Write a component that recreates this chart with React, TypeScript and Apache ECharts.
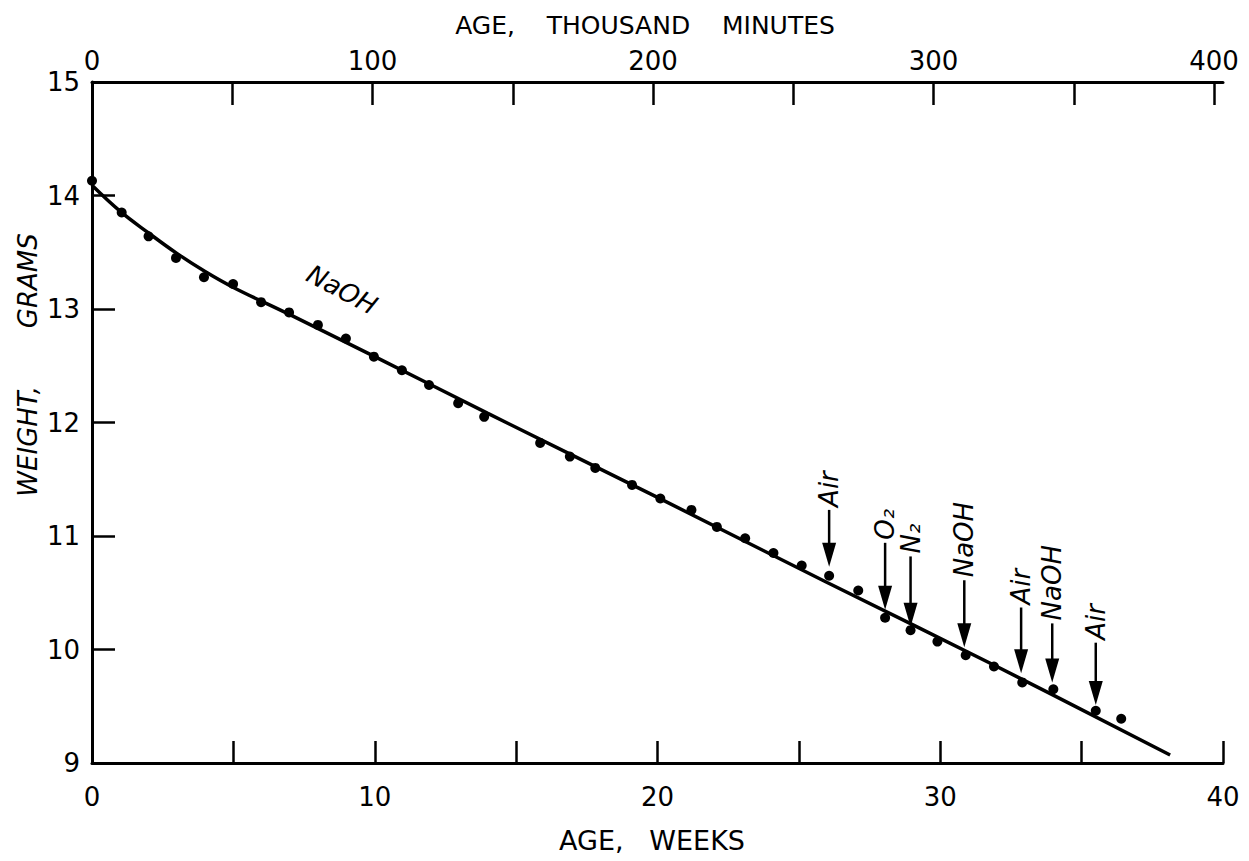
import React, { useEffect, useRef } from "react";
import * as echarts from "echarts";

// Measured points (age in weeks, weight in grams)
const pointWeeks = [0, 1.05, 2.0, 2.97, 3.96, 4.99, 5.98, 6.97, 7.99, 8.98, 9.97, 10.96, 11.92, 12.95, 13.87, 15.85, 16.9, 17.8, 19.1, 20.1, 21.2, 22.1, 23.1, 24.1, 25.1, 26.07, 27.1, 28.05, 28.95, 29.9, 30.9, 31.9, 32.9, 34.0, 35.5, 36.4];
const pointGrams = [14.13, 13.85, 13.64, 13.45, 13.28, 13.22, 13.06, 12.97, 12.86, 12.74, 12.58, 12.46, 12.33, 12.17, 12.05, 11.82, 11.7, 11.6, 11.45, 11.33, 11.23, 11.08, 10.98, 10.85, 10.74, 10.65, 10.52, 10.28, 10.17, 10.07, 9.95, 9.85, 9.71, 9.65, 9.46, 9.39];

// Fitted curve
const curveWeeks = [0, 1, 2, 3, 4, 5, 7, 10, 14, 20, 26, 32, 38.13];
const curveGrams = [14.09, 13.86, 13.67, 13.49, 13.33, 13.19, 12.95, 12.58, 12.08, 11.34, 10.59, 9.85, 9.07];

// Arrow annotations
const arrowWeeks = [26.07, 28.05, 28.95, 30.85, 32.86, 33.96, 35.5];
const arrowTops = [11.23, 10.94, 10.82, 10.61, 10.37, 10.23, 10.06];
const arrowTips = [10.73, 10.35, 10.2, 10.02, 9.79, 9.71, 9.51];
const arrowLabels = ["Air", "O\u2082", "N\u2082", "NaOH", "Air", "NaOH", "Air"];

// In-line label
const noteText = "NaOH";
const noteWeek = 8.84;
const noteGrams = 13.17;

// Axes
const weekTicks = [5, 10, 15, 20, 25, 30, 35, 40];
const weekLabels = [0, 10, 20, 30, 40];
const minuteTicks = [50, 100, 150, 200, 250, 300, 350, 400];
const minuteLabels = [0, 100, 200, 300, 400];
const minutesPerWeekThousand = 10.08;

const FONT = "DejaVu Sans";

export default function App() {
  const ref = useRef<HTMLDivElement>(null);

  useEffect(() => {
    if (!ref.current) return;
    const chart = echarts.init(ref.current, undefined, { renderer: "svg" });
    const axisLine = { show: true, lineStyle: { color: "#000", width: 3 } };
    const tick = { inside: true, length: 22, lineStyle: { color: "#000", width: 2.5 } };
    const labelStyle = { color: "#000", fontSize: 26, fontFamily: FONT };

    chart.setOption({
      animation: false,
      backgroundColor: "#fff",
      grid: { left: 92, right: 26, top: 82, bottom: 98, containLabel: false, outerBoundsMode: "none" },
      xAxis: [
        {
          type: "value",
          position: "bottom",
          min: 0,
          max: 40,
          interval: 5,
          axisLine,
          axisTick: { ...tick, customValues: weekTicks },
          axisLabel: { ...labelStyle, margin: 21, customValues: weekLabels },
          splitLine: { show: false },
        },
        {
          type: "value",
          position: "top",
          min: 0,
          max: 40 * minutesPerWeekThousand,
          interval: 50,
          axisLine,
          axisTick: { ...tick, length: 23, customValues: minuteTicks },
          axisLabel: { ...labelStyle, margin: 8, customValues: minuteLabels },
          splitLine: { show: false },
        },
      ],
      yAxis: {
        type: "value",
        min: 9,
        max: 15,
        interval: 1,
        axisLine,
        axisTick: { ...tick, length: 23 },
        axisLabel: { ...labelStyle, margin: 12 },
        splitLine: { show: false },
      },
      graphic: [
        {
          type: "text",
          x: 645,
          y: 25,
          style: { text: "AGE,    THOUSAND    MINUTES", fill: "#000", fontSize: 25, fontFamily: FONT, align: "center", verticalAlign: "middle" },
        },
        {
          type: "text",
          x: 652,
          y: 840,
          style: { text: "AGE,   WEEKS", fill: "#000", fontSize: 27, fontFamily: FONT, align: "center", verticalAlign: "middle" },
        },
        {
          type: "text",
          x: 28,
          y: 365,
          rotation: Math.PI / 2,
          style: { text: "WEIGHT,       GRAMS", fill: "#000", fontSize: 26, fontStyle: "italic", fontFamily: FONT, align: "center", verticalAlign: "middle" },
        },
      ],
      series: [
        {
          type: "line",
          data: curveWeeks.map((w, i) => [w, curveGrams[i]]),
          smooth: 0.4,
          showSymbol: false,
          lineStyle: { color: "#000", width: 3.5, opacity: 1 },
          silent: true,
        },
        {
          type: "scatter",
          data: pointWeeks.map((w, i) => [w, pointGrams[i]]),
          symbol: "circle",
          symbolSize: 10,
          itemStyle: { color: "#000", opacity: 1 },
          silent: true,
        },
        {
          type: "scatter",
          data: [[noteWeek, noteGrams]],
          symbolSize: 0,
          silent: true,
          itemStyle: { color: "#000", opacity: 1 },
          label: {
            show: true,
            position: "inside",
            formatter: noteText,
            rotate: -28,
            color: "#000",
            opacity: 1,
            fontSize: 26,
            fontStyle: "italic",
            fontFamily: FONT,
          },
        },
        {
          type: "custom",
          silent: true,
          clip: false,
          data: arrowWeeks.map((w, i) => [w, arrowTops[i], arrowTips[i]]),
          renderItem: (params: any, api: any) => {
            const w = api.value(0);
            const pTop = api.coord([w, api.value(1)]);
            const pTip = api.coord([w, api.value(2)]);
            const headH = 24;
            const headW = 7;
            return {
              type: "group",
              children: [
                {
                  type: "line",
                  shape: { x1: pTop[0], y1: pTop[1], x2: pTip[0], y2: pTip[1] - headH + 2 },
                  style: { stroke: "#000", lineWidth: 2.5 },
                },
                {
                  type: "polygon",
                  shape: {
                    points: [
                      [pTip[0] - headW, pTip[1] - headH],
                      [pTip[0] + headW, pTip[1] - headH],
                      [pTip[0], pTip[1]],
                    ],
                  },
                  style: { fill: "#000" },
                },
                {
                  type: "text",
                  x: pTop[0],
                  y: pTop[1] - 3,
                  rotation: Math.PI / 2,
                  style: {
                    text: arrowLabels[params.dataIndex],
                    fill: "#000",
                    fontSize: 26,
                    fontStyle: "italic",
                    fontFamily: FONT,
                    align: "left",
                    verticalAlign: "middle",
                  },
                },
              ],
            };
          },
        },
      ],
    });

    return () => chart.dispose();
  }, []);

  return (
    <div
      ref={ref}
      style={{ position: "absolute", left: 0, top: 0, width: 1249, height: 861, background: "#fff" }}
    />
  );
}
